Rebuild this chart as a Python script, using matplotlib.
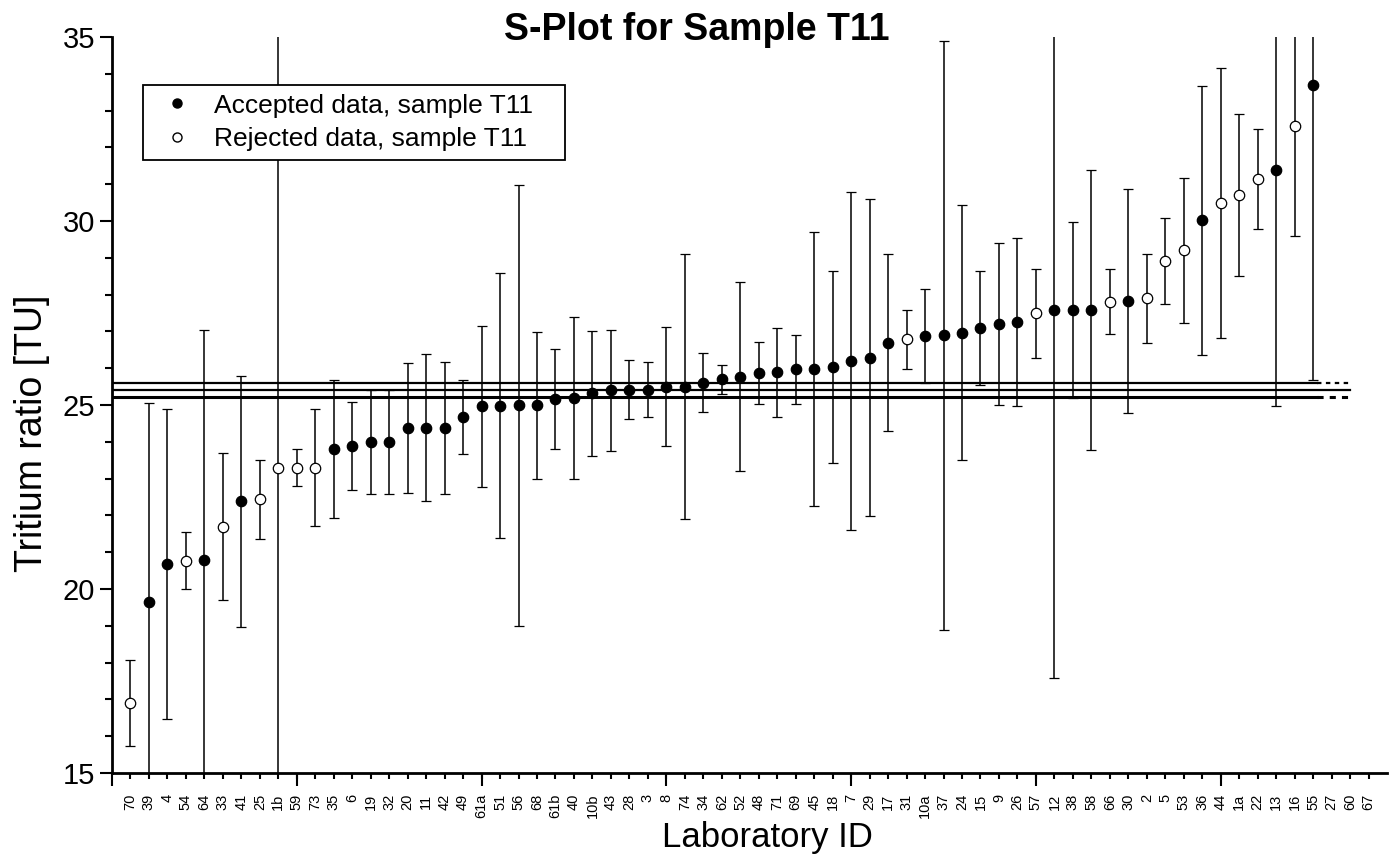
import matplotlib.pyplot as plt
from matplotlib.ticker import MultipleLocator
from matplotlib.lines import Line2D
import numpy as np

plt.rcParams['font.family'] = ['Liberation Sans', 'DejaVu Sans']

# laboratory IDs in plotting order (last three have no result)
lab_ids = ['70', '39', '4', '54', '64', '33', '41', '25', '1b', '59', '73', '35', '6', '19',
           '32', '20', '11', '42', '49', '61a', '51', '56', '68', '61b', '40', '10b', '43',
           '28', '3', '8', '74', '34', '62', '52', '48', '71', '69', '45', '18', '7', '29',
           '17', '31', '10a', '37', '24', '15', '9', '26', '57', '12', '38', '58', '66', '30',
           '2', '5', '53', '36', '44', '1a', '22', '13', '16', '55', '27', '60', '67']

# tritium ratio [TU] and uncertainty for the labs that reported
tritium = [16.91, 19.65, 20.68, 20.77, 20.80, 21.69, 22.38, 22.44, 23.30, 23.30, 23.30,
           23.80, 23.89, 23.99, 23.99, 24.38, 24.38, 24.38, 24.68, 24.96, 24.98, 24.99,
           24.99, 25.16, 25.19, 25.32, 25.40, 25.41, 25.42, 25.50, 25.50, 25.60, 25.70,
           25.77, 25.87, 25.89, 25.97, 25.98, 26.03, 26.20, 26.29, 26.69, 26.79, 26.88,
           26.89, 26.97, 27.08, 27.19, 27.26, 27.49, 27.58, 27.58, 27.58, 27.81, 27.83,
           27.90, 28.92, 29.20, 30.02, 30.50, 30.71, 31.14, 31.39, 32.59, 33.70]
uncert = [1.17, 5.40, 4.20, 0.77, 6.25, 2.00, 3.40, 1.07, 12.0, 0.50, 1.60,
          1.87, 1.20, 1.41, 1.41, 1.77, 2.00, 1.80, 1.00, 2.20, 3.60, 6.00,
          2.00, 1.35, 2.20, 1.70, 1.64, 0.80, 0.75, 1.61, 3.60, 0.80, 0.40,
          2.56, 0.83, 1.21, 0.94, 3.72, 2.60, 4.60, 4.30, 2.40, 0.80, 1.28,
          8.00, 3.46, 1.55, 2.20, 2.29, 1.20, 10.0, 2.40, 3.80, 0.88, 3.05,
          1.21, 1.17, 1.97, 3.66, 3.67, 2.20, 1.36, 6.41, 3.00, 8.02]
rejected = [1, 0, 0, 1, 0, 1, 0, 1, 1, 1, 1,
            0, 0, 0, 0, 0, 0, 0, 0, 0, 0, 0,
            0, 0, 0, 0, 0, 0, 0, 0, 0, 0, 0,
            0, 0, 0, 0, 0, 0, 0, 0, 0, 1, 0,
            0, 0, 0, 0, 0, 1, 0, 0, 0, 1, 0,
            1, 1, 1, 0, 1, 1, 1, 0, 1, 0]

# reference value and its uncertainty band
ref_value = 25.40
ref_upper = 25.61
ref_lower = 25.21

pos = np.arange(1, len(lab_ids) + 1)
xs = pos[:len(tritium)]
vals = np.array(tritium)
errs = np.array(uncert)
rej = np.array(rejected, dtype=bool)

fig = plt.figure(figsize=(13.93, 8.66), dpi=100)
ax = fig.add_axes([112 / 1393, 93 / 866, 1275 / 1393, 736 / 866])

# reference lines, solid part then dashed continuation
ax.plot([0, 67], [ref_value, ref_value], color='k', lw=1.6)
for yv, w in [(ref_upper, 1.6), (ref_lower, 2.2)]:
    ax.plot([0, 65.2], [yv, yv], color='k', lw=w)
    ax.plot([65.2, 67], [yv, yv], color='k', lw=w, ls=(0, (2, 2)))

ebkw = dict(fmt='o', color='k', ecolor='k', elinewidth=1.1, capsize=3.3, capthick=1.1,
            ms=7.5, mec='k', mew=0.9, zorder=3)
ax.errorbar(xs[~rej], vals[~rej], yerr=errs[~rej], mfc='k', **ebkw)
ax.errorbar(xs[rej], vals[rej], yerr=errs[rej], mfc='white', **ebkw)

ax.set_xlim(0, 69)
ax.set_ylim(15, 35)

for s in ['top', 'right']:
    ax.spines[s].set_visible(False)
for s in ['left', 'bottom']:
    ax.spines[s].set_linewidth(2)

ax.set_xticks(pos, lab_ids)
ax.set_xticks(range(0, 70, 10), minor=True)
ax.xaxis.remove_overlapping_locs = False
ax.tick_params(axis='x', which='major', length=4, width=1.5, pad=11,
               labelsize=10.5, labelrotation=90)
ax.tick_params(axis='x', which='minor', length=9, width=1.5)

ax.set_yticks([15, 20, 25, 30, 35])
ax.yaxis.set_minor_locator(MultipleLocator(1))
ax.tick_params(axis='y', which='major', length=9, width=1.5, labelsize=21, pad=3)
ax.tick_params(axis='y', which='minor', length=5, width=1.5)

handles = [Line2D([], [], ls='none', marker='o', ms=6.5, mfc='k', mec='k'),
           Line2D([], [], ls='none', marker='o', ms=6.5, mfc='white', mec='k')]
leg = ax.legend(handles, ['Accepted data, sample T11', 'Rejected data, sample T11'],
                loc='upper left', mode='expand',
                bbox_to_anchor=(31 / 1275, 0, 422 / 1275, 1 - 48 / 736),
                borderaxespad=0, fontsize=19, fancybox=False, framealpha=1,
                edgecolor='k', borderpad=0.33, handlelength=1.9, handletextpad=0.45,
                labelspacing=0.36)
leg.get_frame().set_linewidth(1.3)

fig.text(0.5, 1 - 40 / 866, 'S-Plot for Sample T11', ha='center', va='baseline',
         fontsize=27, fontweight='bold')
fig.text(767 / 1393, 1 - 847 / 866, 'Laboratory ID', ha='center', va='baseline', fontsize=25)
fig.text(32 / 1393, 0.5, 'Tritium ratio [TU]', ha='center', va='center',
         rotation=90, fontsize=27)

fig.savefig('out.png', dpi=100)
